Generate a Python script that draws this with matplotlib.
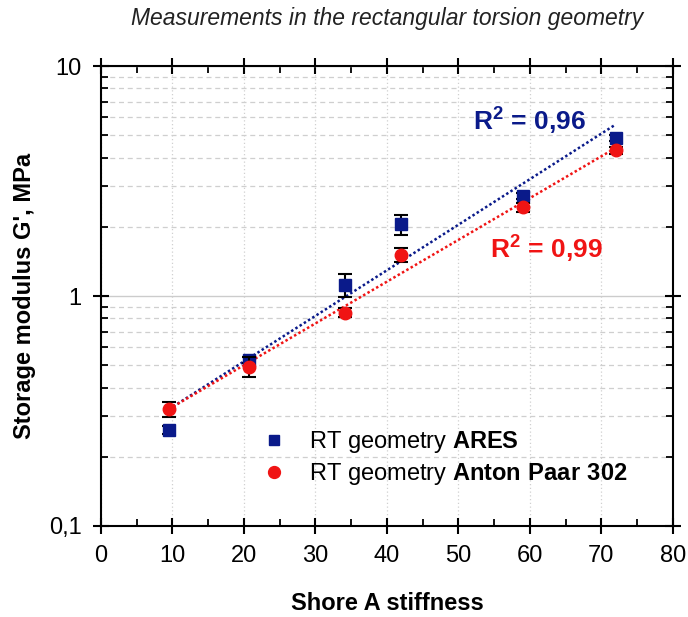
import numpy as np
import matplotlib
matplotlib.use("Agg")
import matplotlib.pyplot as plt
from matplotlib.ticker import FixedLocator, FuncFormatter, LogLocator, NullFormatter, MultipleLocator

plt.rcParams['font.family'] = ['Liberation Sans', 'DejaVu Sans']
plt.rcParams['mathtext.fontset'] = 'custom'
plt.rcParams['mathtext.rm'] = 'Liberation Sans'
plt.rcParams['mathtext.bf'] = 'Liberation Sans:bold'

# Shore A hardness of the samples
shore = [9.5, 20.7, 34.2, 42.0, 59.0, 72.0]

# ARES rectangular torsion, G' in MPa
ares_g = [0.261, 0.527, 1.12, 2.05, 2.72, 4.85]
ares_err = [0.01, 0.015, 0.13, 0.20, 0.08, 0.15]

# Anton Paar MCR 302, G' in MPa
ap_g = [0.322, 0.493, 0.847, 1.51, 2.43, 4.31]
ap_err = [0.025, 0.05, 0.04, 0.10, 0.10, 0.15]

navy = '#0a1a8a'
red = '#f01414'

fig = plt.figure(figsize=(6.88, 6.17), dpi=100)
ax = fig.add_axes([0.1468, 0.1475, 0.8312, 0.7455])

ax.set_xlim(0, 80)
ax.set_ylim(0.1, 10)
ax.set_yscale('log')

# grid
ax.xaxis.set_major_locator(MultipleLocator(10))
ax.xaxis.set_minor_locator(MultipleLocator(5))
ax.yaxis.set_major_locator(FixedLocator([0.1, 1, 10]))
ax.yaxis.set_minor_locator(LogLocator(base=10, subs=np.arange(2, 10)))
ax.yaxis.set_minor_formatter(NullFormatter())
ax.yaxis.set_major_formatter(FuncFormatter(lambda v, p: {0.1: '0,1', 1: '1', 10: '10'}.get(round(v, 3), '')))

ax.grid(which='major', axis='x', color='#d0d0d0', linestyle=(0, (1, 2)), linewidth=0.9)
ax.grid(which='minor', axis='y', color='#cfcfcf', linestyle=(0, (4, 3)), linewidth=0.9)
ax.grid(which='major', axis='y', color='#cccccc', linestyle='-', linewidth=1.0)

for s in ax.spines.values():
    s.set_linewidth(1.5)
ax.tick_params(which='major', direction='inout', length=12, width=1.5, top=True, right=True,
               labelsize=17, pad=8)
ax.tick_params(which='minor', direction='in', length=5, width=1.3, top=True, right=True)

# exponential trend lines (linear fit of log G')
xs = np.array(shore)
xl = np.linspace(xs.min(), xs.max(), 50)
kb = np.polyfit(xs, np.log10(ares_g), 1)
kr = np.polyfit(xs, np.log10(ap_g), 1)
ax.plot(xl, 10 ** np.polyval(kb, xl), color=navy, linestyle=(0, (1, 1)), linewidth=1.8, zorder=3)
ax.plot(xl, 10 ** np.polyval(kr, xl), color=red, linestyle=(0, (1, 1)), linewidth=1.8, zorder=3)

ax.errorbar(shore, ares_g, yerr=ares_err, fmt='s', color=navy, markersize=8, ecolor='black',
            elinewidth=1.5, capsize=5, capthick=1.5, zorder=4,
            label=r'RT geometry $\mathbf{ARES}$')
ax.errorbar(shore, ap_g, yerr=ap_err, fmt='o', color=red, markersize=9, ecolor='black',
            elinewidth=1.5, capsize=5, capthick=1.5, zorder=5,
            label=r'RT geometry $\mathbf{Anton\ Paar\ 302}$')

h, l = ax.get_legend_handles_labels()
h = [hh[0] for hh in h]
ax.legend(h, l, loc='center left', bbox_to_anchor=(0.286, 0.148), frameon=False, fontsize=17,
          handlelength=0.8, handletextpad=1.1, labelspacing=0.25, borderpad=0, borderaxespad=0,
          markerscale=0.95)

ax.text(0.65, 0.883, r'R$^\mathbf{2}$ = 0,96', transform=ax.transAxes, color=navy,
        fontsize=19, fontweight='bold', ha='left', va='center')
ax.text(0.68, 0.604, r'R$^\mathbf{2}$ = 0,99', transform=ax.transAxes, color=red,
        fontsize=19, fontweight='bold', ha='left', va='center')

ax.set_xlabel('Shore A stiffness', fontsize=17, fontweight='bold', labelpad=18)
ax.set_ylabel("Storage modulus G', MPa", fontsize=17, fontweight='bold', labelpad=9)
fig.text(0.562, 0.970, 'Measurements in the rectangular torsion geometry', fontsize=16.5,
         style='italic', ha='center', va='center', color='#222222')

fig.savefig('out.png', dpi=100)
